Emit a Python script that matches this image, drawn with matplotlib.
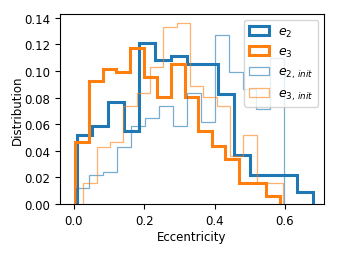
import numpy as np
import matplotlib
matplotlib.use("Agg")
import matplotlib.pyplot as plt

# Histogram heights (fraction per bin), 15 bins each
e2_heights = [0.052, 0.059, 0.077, 0.055, 0.121, 0.108, 0.111, 0.105,
              0.105, 0.083, 0.037, 0.022, 0.022, 0.022, 0.0093]
e3_heights = [0.0464, 0.0928, 0.1016, 0.0991, 0.117, 0.0958, 0.0803, 0.105,
              0.0803, 0.0552, 0.0434, 0.0339, 0.0158, 0.0158, 0.0063]
e2_init_heights = [0.012, 0.0218, 0.0243, 0.0431, 0.0585, 0.0647, 0.074, 0.0585,
                   0.0833, 0.062, 0.1267, 0.0996, 0.0866, 0.0715, 0.110]
e3_init_heights = [0.0156, 0.0431, 0.0464, 0.074, 0.0833, 0.1029, 0.133, 0.136,
                   0.089, 0.0803, 0.074, 0.0364, 0.0522, 0.0158, 0.0158]

# Data ranges (min, max eccentricity) of each sample
e2_range = (0.0077, 0.6783)
e3_range = (0.0043, 0.5859)
e2_init_range = (0.0048, 0.5980)
e3_init_range = (0.0265, 0.5953)

labels = [r'$e_2$', r'$e_3$', r'$e_{2,\,init}$', r'$e_{3,\,init}$']
xticks = [0.0, 0.2, 0.4, 0.6]
yticks = [0.00, 0.02, 0.04, 0.06, 0.08, 0.10, 0.12, 0.14]

plt.rcParams['font.size'] = 8.5
fig = plt.figure(figsize=(3.4, 2.55), dpi=100)
ax = fig.add_axes([0.176, 0.196, 0.777, 0.745])

series = [
    (e2_heights, e2_range, '#1f77b4', 2.2, 1.0),
    (e3_heights, e3_range, '#ff7f0e', 2.2, 1.0),
    (e2_init_heights, e2_init_range, '#1f77b4', 0.9, 0.6),
    (e3_init_heights, e3_init_range, '#ff7f0e', 0.9, 0.6),
]
for (h, rng, col, lw, al), lab in zip(series, labels):
    edges = np.linspace(rng[0], rng[1], len(h) + 1)
    ax.hist(edges[:-1], bins=edges, weights=h, histtype='step',
            color=col, lw=lw, alpha=al, label=lab)

ax.set_xlim(-0.0398, 0.711)
ax.set_ylim(0, 0.1428)
ax.set_xticks(xticks)
ax.set_yticks(yticks)
ax.set_xticklabels([f'{v:.1f}' for v in xticks])
ax.set_yticklabels([f'{v:.2f}' for v in yticks])
ax.set_xlabel('Eccentricity', labelpad=2.5)
ax.set_ylabel('Distribution', labelpad=0)
ax.legend(loc='upper right', fontsize=9, handlelength=1.6, handletextpad=0.7,
          labelspacing=0.5, borderaxespad=0.45)

fig.savefig('out.png', dpi=100)
